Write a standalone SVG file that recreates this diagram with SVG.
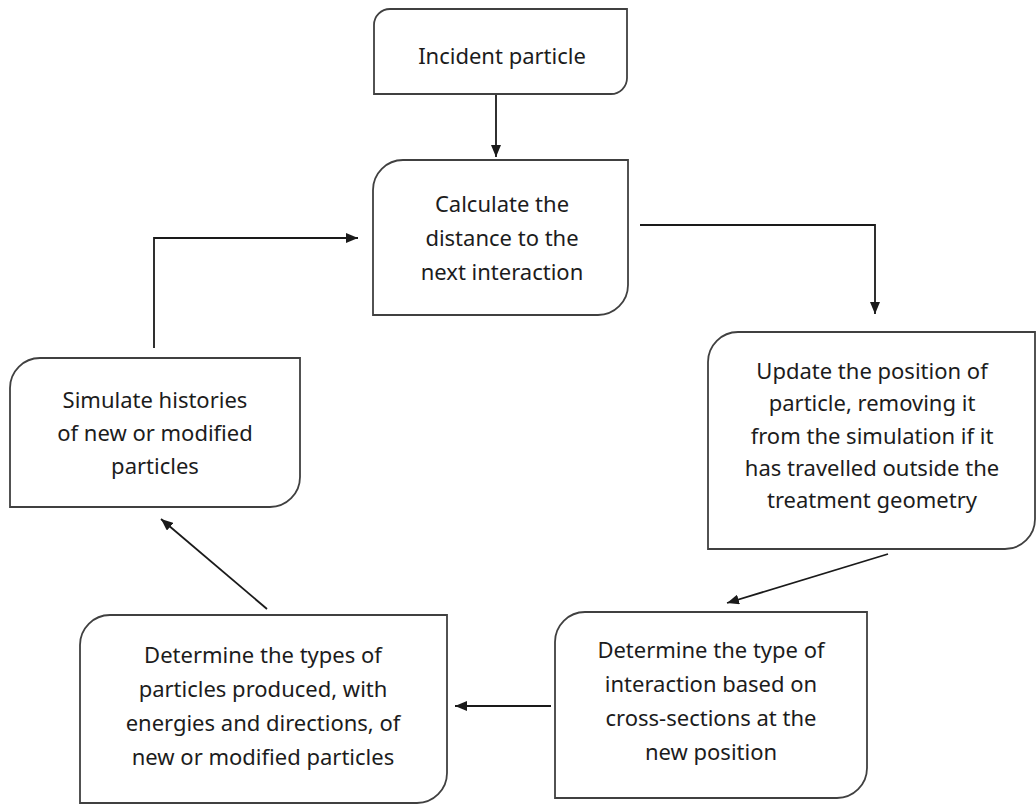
<svg xmlns="http://www.w3.org/2000/svg" width="1036" height="805" viewBox="0 0 1036 805">
<defs>
<style>
.box{fill:#ffffff;stroke:#404040;stroke-width:1.8}
.lbl{font-family:"Noto Sans","Open Sans","Liberation Sans",sans-serif;font-size:22px;fill:#1c1c1c;text-anchor:middle}
.con{fill:none;stroke:#1a1a1a;stroke-width:1.8}
</style>
<marker id="ah" viewBox="0 0 12 10" refX="12" refY="5" markerWidth="12" markerHeight="10" markerUnits="userSpaceOnUse" orient="auto">
<path d="M0,0 L12,5 L0,10 Z" fill="#1a1a1a"/>
</marker>
</defs>
<rect width="1036" height="805" fill="#ffffff"/>
<g id="connectors">
<path class="con" d="M496,94 V157" marker-end="url(#ah)"/>
<path class="con" d="M640,225 H875 V314" marker-end="url(#ah)"/>
<path class="con" d="M888,554 L727,603" marker-end="url(#ah)"/>
<path class="con" d="M551,706 H455" marker-end="url(#ah)"/>
<path class="con" d="M267,609 L161,519" marker-end="url(#ah)"/>
<path class="con" d="M154,348 V238 H358" marker-end="url(#ah)"/>
</g>
<g id="n1">
<path class="box" d="M390,9 H627 V78 A16,16 0 0 1 611,94 H374 V25 A16,16 0 0 1 390,9 Z"/>
<text class="lbl" x="502" y="64">Incident particle</text>
</g>
<g id="n2">
<path class="box" d="M403,160 H628 V285 A30,30 0 0 1 598,315 H373 V190 A30,30 0 0 1 403,160 Z"/>
<text class="lbl" x="502" y="212">Calculate the</text>
<text class="lbl" x="502" y="246">distance to the</text>
<text class="lbl" x="502" y="280">next interaction</text>
</g>
<g id="n3">
<path class="box" d="M738,332 H1035 V519 A30,30 0 0 1 1005,549 H708 V362 A30,30 0 0 1 738,332 Z"/>
<text class="lbl" x="872" y="379">Update the position of</text>
<text class="lbl" x="872" y="411">particle, removing it</text>
<text class="lbl" x="872" y="444">from the simulation if it</text>
<text class="lbl" x="872" y="476">has travelled outside the</text>
<text class="lbl" x="872" y="508">treatment geometry</text>
</g>
<g id="n4">
<path class="box" d="M585,612 H867 V768 A30,30 0 0 1 837,798 H555 V642 A30,30 0 0 1 585,612 Z"/>
<text class="lbl" x="711" y="658">Determine the type of</text>
<text class="lbl" x="711" y="692">interaction based on</text>
<text class="lbl" x="711" y="726">cross-sections at the</text>
<text class="lbl" x="711" y="760">new position</text>
</g>
<g id="n5">
<path class="box" d="M110,615 H447 V773 A30,30 0 0 1 417,803 H80 V645 A30,30 0 0 1 110,615 Z"/>
<text class="lbl" x="263" y="663">Determine the types of</text>
<text class="lbl" x="263" y="697">particles produced, with</text>
<text class="lbl" x="263" y="731">energies and directions, of</text>
<text class="lbl" x="263" y="765">new or modified particles</text>
</g>
<g id="n6">
<path class="box" d="M40,358 H300 V477 A30,30 0 0 1 270,507 H10 V388 A30,30 0 0 1 40,358 Z"/>
<text class="lbl" x="155" y="408">Simulate histories</text>
<text class="lbl" x="155" y="441">of new or modified</text>
<text class="lbl" x="155" y="474">particles</text>
</g>
</svg>
